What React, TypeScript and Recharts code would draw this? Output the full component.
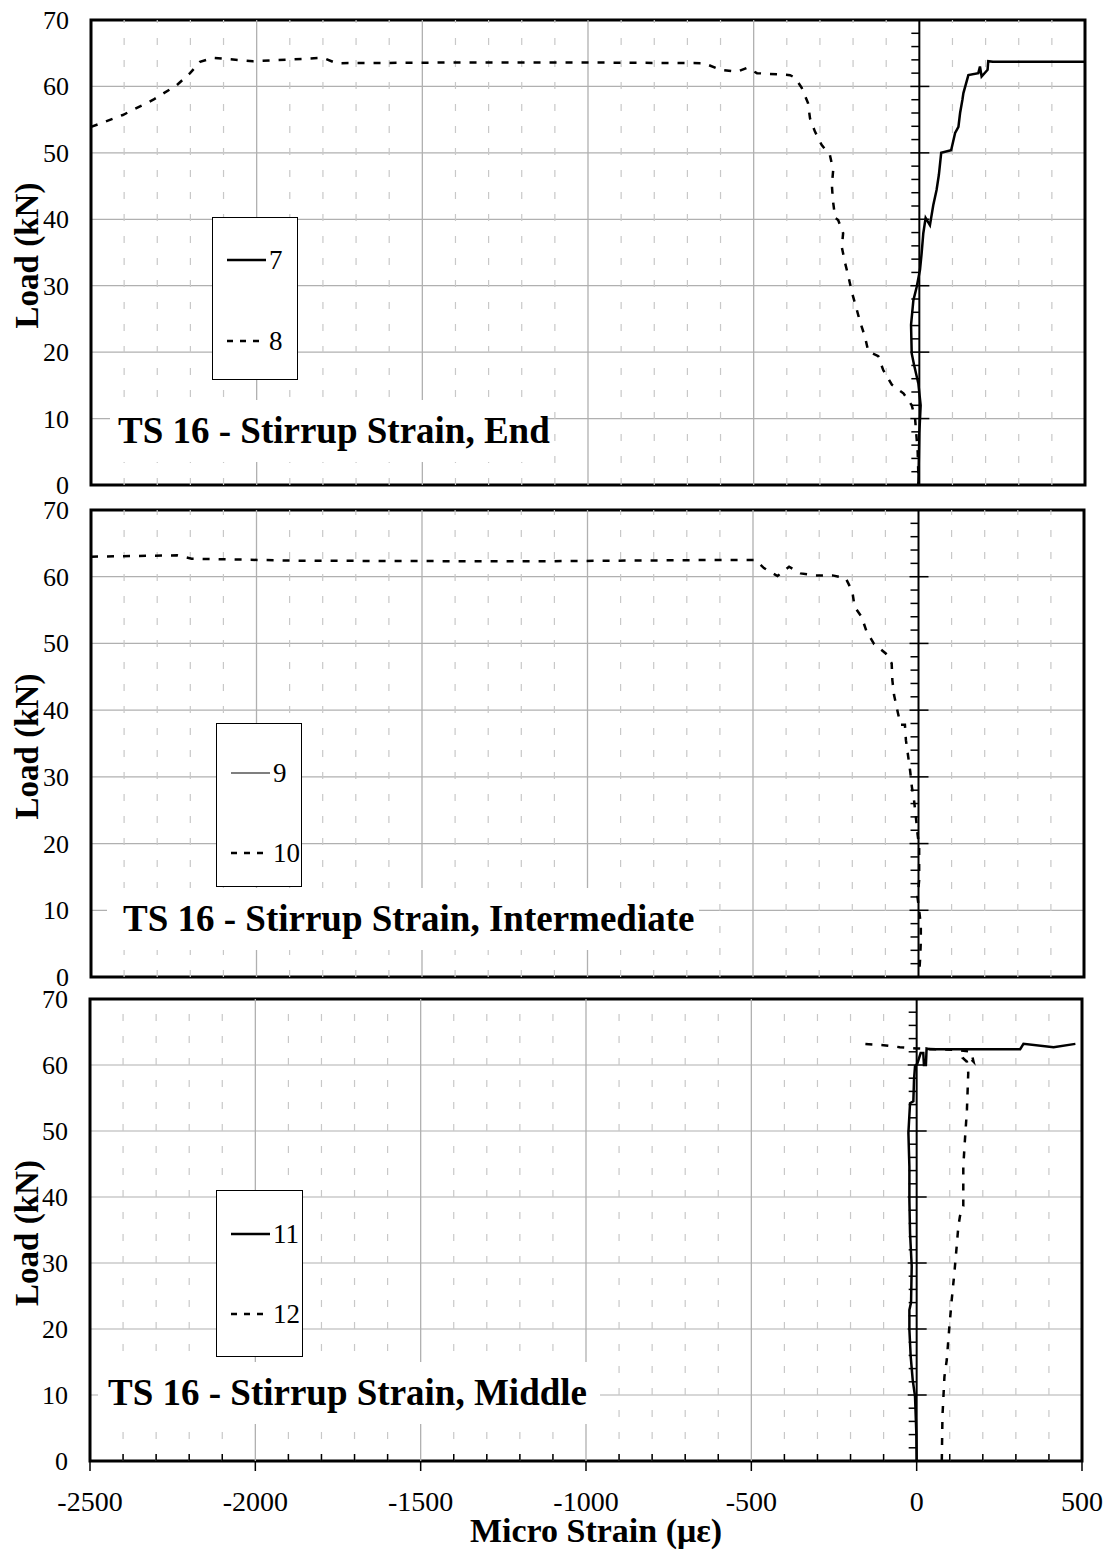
import React from 'react';
import {
  LineChart,
  Line,
  XAxis,
  YAxis,
  CartesianGrid,
  ReferenceLine,
  ReferenceDot,
  ReferenceArea,
  Legend,
} from 'recharts';

type Pt = [number, number]; // [micro strain, load kN]

const FONT = "'Liberation Serif', 'Times New Roman', Times, serif";

const X_DOMAIN: [number, number] = [-2500, 500];
const Y_DOMAIN: [number, number] = [0, 70];
const xMajorTicks = [-2500, -2000, -1500, -1000, -500, 0, 500];
const xMinorTicks = Array.from({ length: 31 }, (_, i) => -2500 + i * 100);
const yTicks = [0, 10, 20, 30, 40, 50, 60, 70];
const zeroAxisTicks = Array.from({ length: 34 }, (_, i) => 2 + i * 2);

// end stirrup
const gauge7: Pt[] = [
  [-3, 0], [0, 7.8], [4, 12], [-3, 15.3], [-16, 18.1], [-23, 19.8], [-25, 24.1],
  [-18, 27.8], [-8, 29.8], [2, 32.4], [7, 34.9], [12, 37.9], [19, 40.2], [32, 39.1],
  [42, 42.1], [52, 44.4], [59, 46.7], [66, 50], [96, 50.4], [108, 53], [118, 53.9],
  [123, 56], [130, 58], [133, 59], [148, 61.7], [178, 62], [183, 63], [188, 61.5],
  [206, 62.5], [208, 63.8], [222, 63.7], [500, 63.7],
];
const gauge8: Pt[] = [
  [-2500, 53.9], [-2404, 55.7], [-2312, 58], [-2241, 60.2], [-2201, 62], [-2171, 63.7],
  [-2131, 64.3], [-2011, 63.8], [-1800, 64.3], [-1759, 63.5], [-1400, 63.6], [-1000, 63.6],
  [-650, 63.5], [-600, 62.5], [-550, 62.2], [-520, 62.8], [-490, 62], [-420, 61.8],
  [-390, 61.7], [-375, 61.3], [-355, 59.8], [-336, 57.5], [-330, 55.2], [-315, 53.2],
  [-295, 51.2], [-270, 49.7], [-260, 47.4], [-264, 45.2], [-261, 42.9], [-254, 40.2],
  [-245, 39.9], [-230, 37.9], [-234, 35.8], [-224, 33.4], [-214, 31.4], [-204, 29.1],
  [-191, 26.8], [-179, 24.6], [-164, 22.3], [-154, 20.1], [-124, 19.4], [-109, 17.3],
  [-83, 15.1], [-48, 13.8], [-23, 12], [-13, 10.1], [-5, 5], [-2, 0],
];

// intermediate stirrup
const gauge9: Pt[] = [];
const gauge10: Pt[] = [
  [-2500, 63], [-2240, 63.2], [-2196, 62.7], [-1868, 62.4], [-1200, 62.3], [-638, 62.5],
  [-492, 62.5], [-467, 61.3], [-426, 60.1], [-391, 61.5], [-356, 60.5], [-311, 60.2],
  [-260, 60.2], [-220, 59.8], [-200, 57.8], [-193, 55.5], [-172, 54], [-157, 51.8],
  [-134, 49.9], [-99, 48.5], [-81, 47], [-79, 44.5], [-74, 42.3], [-64, 40], [-54, 37.8],
  [-41, 37.8], [-38, 35.5], [-31, 33], [-25, 30.8], [-20, 28.5], [-13, 26.3], [-8, 24],
  [-3, 21.5], [2, 19.5], [2, 17], [2, 14.5], [-3, 12], [2, 10], [7, 7.8], [7, 5.3],
  [5, 2.8], [2, 0.5],
];

// middle stirrup
const gauge11: Pt[] = [
  [0, 0], [-1, 4.2], [-5, 9.8], [-12, 12.3], [-18, 15.8], [-22, 19.9], [-22, 22.9],
  [-17, 24], [-15, 29.5], [-20, 34.5], [-22, 39.5], [-22, 44.6], [-25, 49.7], [-20, 54.2],
  [-10, 54.5], [-8, 57.8], [-5, 59.8], [2, 60.2], [12, 61.8], [20, 61.8], [22, 60],
  [28, 60], [30, 62.5], [40, 62.4], [313, 62.4], [323, 63.2], [414, 62.7], [480, 63.2],
];
const gauge12: Pt[] = [
  [76, 0], [78, 6.8], [84, 12.8], [91, 15.3], [99, 20.4], [106, 24.4], [114, 28.5],
  [121, 32.5], [126, 35.5], [131, 37.1], [141, 38.6], [141, 44.6], [146, 48.7],
  [152, 53.2], [156, 58.8], [152, 60.5], [141, 61], [156, 61.3], [172, 60.5], [165, 62],
  [121, 62.3], [0, 62.5], [-51, 62.7], [-100, 63], [-162, 63.2],
];

type SeriesDef = { name: string; points: Pt[]; width: number; dash?: string };

const toRows = (pts: Pt[]) => pts.map(([strain, load]) => ({ strain, load }));

const YTick = (props: any) => (
  <text x={props.x} y={props.y} dy={9} textAnchor="end" fontFamily={FONT} fontSize={26} fill="#000">
    {props.payload.value}
  </text>
);

const XTick = (props: any) => {
  const { x, y, payload } = props;
  const v = payload.value;
  const major = xMajorTicks.includes(v);
  return (
    <g>
      {major ? (
        <line x1={x} y1={y} x2={x} y2={y + 10} stroke="#000" strokeWidth={1.5} />
      ) : (
        <line x1={x} y1={y - 7} x2={x} y2={y} stroke="#000" strokeWidth={1.5} />
      )}
      {major && (
        <text x={x} y={y + 50} textAnchor="middle" fontFamily={FONT} fontSize={28} fill="#000">
          {v}
        </text>
      )}
    </g>
  );
};

const ZeroTick = ({ cx, cy, major }: any) => (
  <line
    x1={cx - (major ? 9 : 8)}
    y1={cy}
    x2={major ? cx + 10 : cx}
    y2={cy}
    stroke="#000"
    strokeWidth={1.5}
  />
);

interface PanelProps {
  top: number;
  height: number;
  margin: { top: number; right: number; bottom: number; left: number };
  yAxisWidth: number;
  series: SeriesDef[];
  title: string;
  titleBox: { left: number; top: number; width: number; pad: number };
  legendBox: { left: number; top: number; width: number; height: number; rows: number[] };
  showX?: boolean;
}

function Panel({ top, height, margin, yAxisWidth, series, title, titleBox, legendBox, showX }: PanelProps) {
  const legendContent = () => (
    <div
      style={{
        position: 'relative',
        width: legendBox.width,
        height: legendBox.height,
        boxSizing: 'border-box',
        border: '1.2px solid #000',
        background: '#fff',
      }}
    >
      {series.map((s, i) => (
        <div key={s.name} style={{ position: 'absolute', left: 0, top: legendBox.rows[i] - 20, height: 40, width: '100%' }}>
          <svg width={legendBox.width} height={40} style={{ position: 'absolute', left: 0, top: 0 }}>
            <line
              x1={14}
              y1={20}
              x2={53}
              y2={20}
              stroke="#000"
              strokeWidth={s.width === 1 ? 1.2 : 2.5}
              strokeDasharray={s.dash ? '6 7' : undefined}
            />
            <text x={56} y={29} fontFamily={FONT} fontSize={27} fill="#000">
              {s.name}
            </text>
          </svg>
        </div>
      ))}
    </div>
  );

  return (
    <div style={{ position: 'absolute', left: 0, top, width: 1115, height }}>
      <LineChart width={1115} height={height} margin={margin}>
        <CartesianGrid horizontal vertical={false} stroke="#b0b0b0" strokeWidth={1.2} />
        {xMinorTicks
          .filter((v) => !xMajorTicks.includes(v))
          .map((v) => (
            <ReferenceLine key={'mn' + v} x={v} stroke="#c8c8c8" strokeWidth={1.2} strokeDasharray="7 15" />
          ))}
        {xMajorTicks
          .filter((v) => v > X_DOMAIN[0] && v < 0)
          .map((v) => (
            <ReferenceLine key={'mj' + v} x={v} stroke="#b0b0b0" strokeWidth={1.3} />
          ))}
        <XAxis
          type="number"
          dataKey="strain"
          domain={X_DOMAIN}
          ticks={xMinorTicks}
          interval={0}
          hide={!showX}
          height={96}
          axisLine={false}
          tickLine={false}
          tickSize={0}
          tickMargin={0}
          tick={XTick}
          label={
            showX
              ? {
                  content: (p: any) => (
                    <text
                      x={p.viewBox.x + p.viewBox.width / 2 + 10}
                      y={p.viewBox.y + 81}
                      textAnchor="middle"
                      fontFamily={FONT}
                      fontSize={34}
                      fontWeight="bold"
                      fill="#000"
                    >
                      Micro Strain (με)
                    </text>
                  ),
                }
              : undefined
          }
        />
        <YAxis
          type="number"
          dataKey="load"
          domain={Y_DOMAIN}
          ticks={yTicks}
          interval={0}
          width={yAxisWidth}
          axisLine={false}
          tickLine={false}
          tickSize={0}
          tickMargin={22}
          tick={YTick}
          label={{
            content: (p: any) => {
              const cx = 38;
              const cy = p.viewBox.y + p.viewBox.height / 2 + 3;
              return (
                <text
                  x={cx}
                  y={cy}
                  transform={`rotate(-90, ${cx}, ${cy})`}
                  textAnchor="middle"
                  fontFamily={FONT}
                  fontSize={33}
                  fontWeight="bold"
                  fill="#000"
                >
                  Load (kN)
                </text>
              );
            },
          }}
        />
        <ReferenceLine x={0} stroke="#000" strokeWidth={2} />
        {zeroAxisTicks.map((v) => (
          <ReferenceDot
            key={'zt' + v}
            x={0}
            y={v}
            r={0}
            shape={(p: any) => <ZeroTick {...p} major={v % 10 === 0} />}
          />
        ))}
        {series.map((s) => (
          <Line
            key={s.name}
            name={s.name}
            data={toRows(s.points)}
            dataKey="load"
            type="linear"
            stroke="#000"
            strokeWidth={s.width}
            strokeDasharray={s.dash}
            dot={false}
            activeDot={false}
            isAnimationActive={false}
          />
        ))}
        <ReferenceArea
          x1={X_DOMAIN[0]}
          x2={X_DOMAIN[1]}
          y1={Y_DOMAIN[0]}
          y2={Y_DOMAIN[1]}
          fill="none"
          fillOpacity={0}
          stroke="#000"
          strokeWidth={3}
        />
        <Legend
          layout="horizontal"
          align="center"
          verticalAlign="middle"
          wrapperStyle={{
            left: legendBox.left,
            top: legendBox.top,
            width: legendBox.width,
            height: legendBox.height,
          }}
          content={legendContent}
        />
      </LineChart>
      <div
        style={{
          position: 'absolute',
          left: titleBox.left,
          top: titleBox.top,
          width: titleBox.width,
          height: 62,
          lineHeight: '62px',
          paddingLeft: titleBox.pad,
          boxSizing: 'border-box',
          background: '#fff',
          fontFamily: FONT,
          fontSize: 37,
          fontWeight: 'bold',
          whiteSpace: 'nowrap',
          color: '#000',
        }}
      >
        {title}
      </div>
    </div>
  );
}

const endSeries: SeriesDef[] = [
  { name: '7', points: gauge7, width: 2.5 },
  { name: '8', points: gauge8, width: 2.5, dash: '7 9' },
];
const intermediateSeries: SeriesDef[] = [
  { name: '9', points: gauge9, width: 1 },
  { name: '10', points: gauge10, width: 2.5, dash: '7 9' },
];
const middleSeries: SeriesDef[] = [
  { name: '11', points: gauge11, width: 2.5 },
  { name: '12', points: gauge12, width: 2.5, dash: '7 9' },
];

export default function App() {
  return (
    <div style={{ position: 'absolute', left: 0, top: 0, width: 1115, height: 1557, background: '#fff' }}>
      <Panel
        top={0}
        height={503}
        margin={{ top: 20, right: 30, bottom: 18, left: 0 }}
        yAxisWidth={91}
        series={endSeries}
        title="TS 16 - Stirrup Strain, End"
        titleBox={{ left: 110, top: 400, width: 433, pad: 8 }}
        legendBox={{ left: 212, top: 217, width: 86, height: 163, rows: [42, 123] }}
      />
      <Panel
        top={480}
        height={515}
        margin={{ top: 30, right: 31, bottom: 18, left: 0 }}
        yAxisWidth={91}
        series={intermediateSeries}
        title="TS 16 - Stirrup Strain, Intermediate"
        titleBox={{ left: 107, top: 408, width: 592, pad: 16 }}
        legendBox={{ left: 216, top: 243, width: 86, height: 164, rows: [49, 129] }}
      />
      <Panel
        top={970}
        height={587}
        margin={{ top: 29, right: 33, bottom: 0, left: 0 }}
        yAxisWidth={90}
        series={middleSeries}
        title="TS 16 - Stirrup Strain, Middle"
        titleBox={{ left: 98, top: 392, width: 502, pad: 10 }}
        legendBox={{ left: 216, top: 220, width: 87, height: 167, rows: [43, 123] }}
        showX
      />
    </div>
  );
}
